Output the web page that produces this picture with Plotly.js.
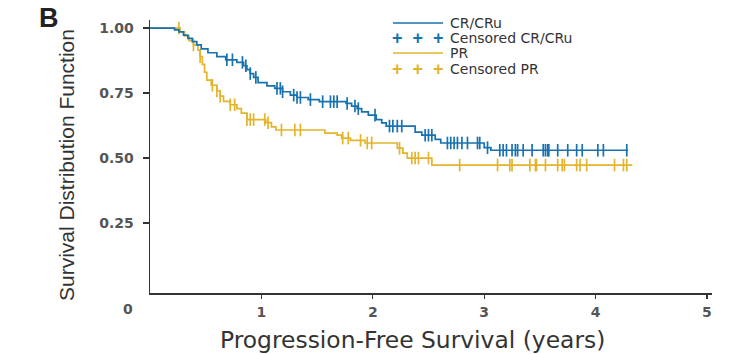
<!DOCTYPE html>
<html>
<head>
<meta charset="utf-8">
<script src="https://cdn.plot.ly/plotly-3.0.1.min.js"></script>
<style>html,body{margin:0;padding:0;background:#fff;}#chart{width:740px;height:354px;}</style>
</head>
<body>
<div id="chart"></div>
<script>
// CR/CRu Kaplan-Meier steps (time in years, survival after step)
const crTimes = [0, 0.22, 0.26, 0.30, 0.34, 0.38, 0.42, 0.46, 0.52, 0.60, 0.68, 0.78, 0.84, 0.87, 0.90, 0.93, 0.97, 1.05, 1.12, 1.19, 1.26, 1.32, 1.42, 1.52, 1.76, 1.81, 1.86, 1.90, 1.96, 2.03, 2.08, 2.12, 2.38, 2.44, 2.56, 2.61, 3.00, 3.06, 4.29];
const crSurv  = [1.0, 0.993, 0.985, 0.973, 0.96, 0.948, 0.935, 0.92, 0.905, 0.89, 0.878, 0.868, 0.855, 0.84, 0.825, 0.81, 0.79, 0.778, 0.768, 0.755, 0.742, 0.733, 0.725, 0.717, 0.71, 0.70, 0.69, 0.678, 0.665, 0.648, 0.635, 0.623, 0.60, 0.588, 0.572, 0.558, 0.54, 0.53, 0.53];
const crCensored = [0.69, 0.74, 0.83, 0.86, 0.90, 0.95, 1.14, 1.17, 1.19, 1.29, 1.32, 1.35, 1.44, 1.55, 1.62, 1.65, 1.68, 1.77, 1.84, 1.87, 2.02, 2.15, 2.18, 2.22, 2.26, 2.47, 2.50, 2.53, 2.67, 2.70, 2.73, 2.76, 2.80, 2.85, 2.94, 2.96, 3.03, 3.14, 3.17, 3.20, 3.25, 3.28, 3.30, 3.35, 3.43, 3.53, 3.55, 3.57, 3.58, 3.66, 3.75, 3.83, 3.88, 4.02, 4.07, 4.28];

// PR Kaplan-Meier steps
const prTimes = [0, 0.27, 0.31, 0.35, 0.39, 0.43, 0.45, 0.47, 0.49, 0.51, 0.55, 0.60, 0.63, 0.66, 0.72, 0.78, 0.82, 0.87, 1.04, 1.09, 1.13, 1.57, 1.68, 1.72, 1.80, 1.93, 2.22, 2.27, 2.31, 2.53, 4.33];
const prSurv  = [1.0, 0.985, 0.97, 0.952, 0.935, 0.915, 0.89, 0.86, 0.83, 0.80, 0.78, 0.758, 0.738, 0.718, 0.705, 0.69, 0.673, 0.648, 0.636, 0.62, 0.608, 0.596, 0.588, 0.577, 0.568, 0.558, 0.538, 0.519, 0.50, 0.473, 0.473];
const prCensored = [0.26, 0.39, 0.45, 0.56, 0.60, 0.63, 0.72, 0.76, 0.87, 0.90, 0.93, 1.03, 1.06, 1.18, 1.30, 1.35, 1.73, 1.78, 1.89, 1.95, 1.99, 2.24, 2.35, 2.38, 2.41, 2.50, 2.78, 3.12, 3.23, 3.25, 3.41, 3.46, 3.47, 3.55, 3.66, 3.70, 3.72, 3.83, 3.86, 3.92, 4.17, 4.25, 4.28];

const yTicks = [0.25, 0.5, 0.75, 1.0];
const yTickText = ["0.25", "0.50", "0.75", "1.00"];
const xTicks = [1, 2, 3, 4, 5];
const xTickText = ["1", "2", "3", "4", "5"];

const seriesNames = ["CR/CRu", "Censored CR/CRu", "PR", "Censored PR"];
const BLUE = "#1872b0";
const GOLD = "#e3b42c";
const SANS = "Liberation Sans, Arial, sans-serif";
const WIDE = "DejaVu Sans, sans-serif";

function survAt(times, surv, t) {
  let s = surv[0];
  for (let i = 0; i < times.length; i++) { if (times[i] <= t) s = surv[i]; else break; }
  return s;
}

const traces = [
  {x: prTimes, y: prSurv, type: "scatter", mode: "lines", line: {shape: "hv", color: GOLD, width: 1.7}, showlegend: false, hoverinfo: "skip"},
  {x: prCensored, y: prCensored.map(t => survAt(prTimes, prSurv, t)), type: "scatter", mode: "markers",
   marker: {symbol: "line-ns", size: 9, line: {color: GOLD, width: 1.7}}, showlegend: false, hoverinfo: "skip"},
  {x: crTimes, y: crSurv, type: "scatter", mode: "lines", line: {shape: "hv", color: BLUE, width: 1.7}, showlegend: false, hoverinfo: "skip"},
  {x: crCensored, y: crCensored.map(t => survAt(crTimes, crSurv, t)), type: "scatter", mode: "markers",
   marker: {symbol: "line-ns", size: 9, line: {color: BLUE, width: 1.7}}, showlegend: false, hoverinfo: "skip"}
];

const PW = 562, PH = 273, ML = 150, MT = 20;
const px = v => (v - ML) / PW;
const py = v => 1 - (v - MT) / PH;

const legendRows = [23, 38, 53, 69];
const legColors = [BLUE, BLUE, GOLD, GOLD];
const shapes = [];
const annotations = [];
legendRows.forEach((row, i) => {
  const yp = py(row);
  if (i % 2 === 0) {
    shapes.push({type: "line", xref: "paper", yref: "paper", x0: px(393), x1: px(443), y0: yp, y1: yp, line: {color: legColors[i], width: 1.5}});
  } else {
    annotations.push({xref: "paper", yref: "paper", x: px(418), y: yp, text: "<b>+  +  +</b>", showarrow: false, xanchor: "center", yanchor: "middle",
      height: 14, borderpad: 0, font: {family: SANS, size: 18, color: legColors[i]}});
  }
  annotations.push({xref: "paper", yref: "paper", x: px(449), y: yp, text: seriesNames[i], showarrow: false, xanchor: "left", yanchor: "middle",
    height: 14, borderpad: 0, font: {family: WIDE, size: 14, color: "#333"}});
});
annotations.push({xref: "x", yref: "paper", x: 0, y: 0, xshift: -22, yshift: -16, text: "0", showarrow: false, xanchor: "center", yanchor: "middle",
  font: {family: WIDE, size: 14, color: "#555", weight: "bold"}});
annotations.push({xref: "paper", yref: "paper", x: px(37), y: py(18), text: "<b>B</b>", showarrow: false, xanchor: "left", yanchor: "middle",
  font: {family: SANS, size: 27, color: "#222"}});
annotations.push({xref: "paper", yref: "paper", x: px(66), y: py(165), text: "Survival Distribution Function", textangle: -90, showarrow: false,
  xanchor: "center", yanchor: "middle", font: {family: SANS, size: 21, color: "#333"}});
annotations.push({xref: "paper", yref: "paper", x: px(412), y: py(340), text: "Progression-Free Survival (years)", showarrow: false,
  xanchor: "center", yanchor: "middle", font: {family: WIDE, size: 23.4, color: "#333"}});

const layout = {
  width: 740, height: 354,
  margin: {l: ML, r: 28, t: MT, b: 61},
  paper_bgcolor: "#fff", plot_bgcolor: "#fff",
  showlegend: false,
  xaxis: {range: [0, 5.045], tickvals: xTicks, ticktext: xTickText, showgrid: false, zeroline: false,
    showline: true, linecolor: "#333", linewidth: 1.5, ticks: "outside", ticklen: 4, tickcolor: "#333", tickwidth: 1.2,
    ticklabelstandoff: 2,
    tickfont: {family: WIDE, size: 14, color: "#555", weight: "bold"}},
  yaxis: {range: [-0.019, 1.031], tickvals: yTicks, ticktext: yTickText, showgrid: false, zeroline: false,
    showline: true, linecolor: "#333", linewidth: 1.5, ticks: "outside", ticklen: 6, tickcolor: "#333", tickwidth: 1.2,
    ticklabelstandoff: 6,
    tickfont: {family: WIDE, size: 14, color: "#555", weight: "bold"}},
  shapes: shapes,
  annotations: annotations
};

Plotly.newPlot("chart", traces, layout, {displayModeBar: false, staticPlot: true});
</script>
</body>
</html>
